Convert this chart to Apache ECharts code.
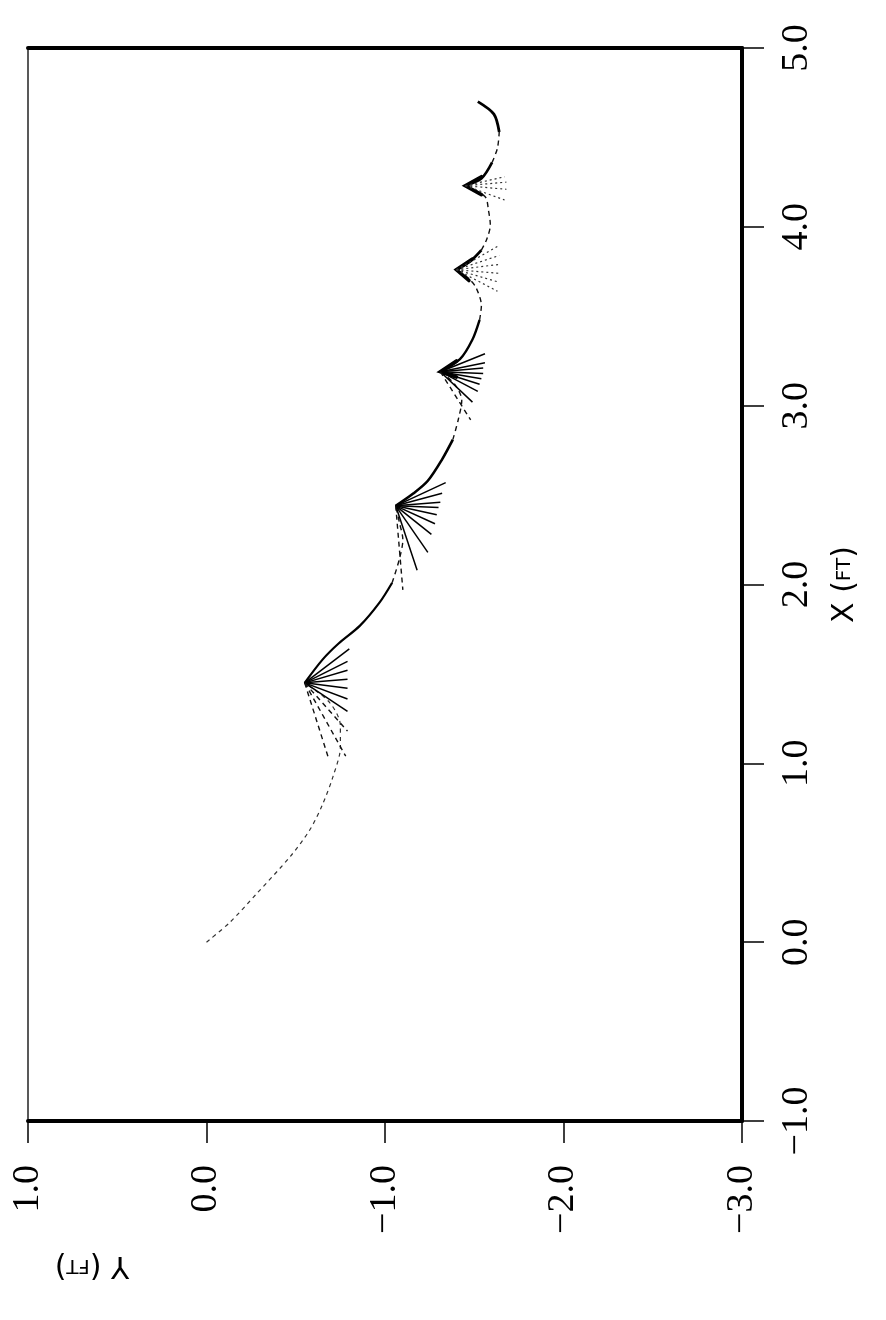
<!DOCTYPE html>
<html>
<head>
<meta charset="utf-8">
<script src="https://cdn.jsdelivr.net/npm/echarts@6/dist/echarts.min.js"></script>
<style>
  html, body { margin: 0; padding: 0; background: #fff; }
  #chart { width: 886px; height: 1320px; }
</style>
</head>
<body>
<div id="chart"></div>
<script>
// Path of the point in feet, each entry is [X, Y].
// The plot is drawn turned a quarter turn: X runs up the page, Y runs to the left.

// tick values and their printed labels
const xFtTicks = [-1, 0, 1, 2, 3, 4, 5];
const xFtTickLabels = ['\u22121.0', '0.0', '1.0', '2.0', '3.0', '4.0', '5.0'];
const yFtTicks = [1, 0, -1, -2, -3];
const yFtTickLabels = ['1.0', '0.0', '\u22121.0', '\u22122.0', '\u22123.0'];

// first stretch, from the origin to the first cusp
const arc0 = [[0.00, 0.00], [0.11, -0.13], [0.27, -0.28], [0.48, -0.47], [0.63, -0.58],
              [0.77, -0.65], [0.93, -0.71], [1.09, -0.75], [1.21, -0.75], [1.34, -0.69], [1.45, -0.55]];

// arcs between cusps: drawn part leaving a cusp, broken part arriving at the next
const arc1Solid  = [[1.45, -0.55], [1.58, -0.65], [1.67, -0.74], [1.77, -0.86], [1.90, -0.97], [2.01, -1.04]];
const arc1Dashed = [[2.01, -1.04], [2.14, -1.08], [2.25, -1.10], [2.35, -1.08], [2.44, -1.06]];
const arc2Solid  = [[2.44, -1.06], [2.51, -1.16], [2.58, -1.24], [2.70, -1.32], [2.81, -1.38]];
const arc2Dashed = [[2.81, -1.38], [2.92, -1.41], [3.03, -1.43], [3.12, -1.39], [3.19, -1.31]];
const arc3Solid  = [[3.19, -1.31], [3.26, -1.42], [3.37, -1.49], [3.48, -1.53]];
const arc3Dashed = [[3.48, -1.53], [3.56, -1.54], [3.66, -1.51], [3.71, -1.47], [3.76, -1.40]];
const arc4Solid  = [[3.76, -1.40], [3.81, -1.48], [3.87, -1.54]];
const arc4Dashed = [[3.87, -1.54], [3.93, -1.57], [4.01, -1.59], [4.09, -1.58], [4.17, -1.56], [4.23, -1.45]];
const arc5Solid  = [[4.23, -1.45], [4.27, -1.54], [4.36, -1.60]];
const arc5Dashed = [[4.36, -1.60], [4.44, -1.63], [4.53, -1.64]];
const arc5Tail   = [[4.53, -1.64], [4.63, -1.61], [4.70, -1.52]];

// heavy strokes where the pen lingered at the cusps
const cusp3Mark = [[3.16, -1.40], [3.19, -1.31], [3.25, -1.40]];
const cusp4Mark = [[3.70, -1.47], [3.76, -1.40], [3.82, -1.49]];
const cusp5Mark = [[4.18, -1.54], [4.23, -1.45], [4.28, -1.54]];

// fans of rays drawn from each cusp: apex, then ray end points
const fan1Apex = [1.45, -0.55];
const fan1Solid = [[1.64, -0.80], [1.57, -0.79], [1.52, -0.79], [1.47, -0.79], [1.42, -0.79], [1.36, -0.79], [1.29, -0.79]];
const fan1Dashed = [[1.18, -0.79], [1.04, -0.78], [1.04, -0.68]];

const fan2Apex = [2.44, -1.06];
const fan2Solid = [[2.57, -1.34], [2.51, -1.32], [2.46, -1.31], [2.43, -1.30], [2.39, -1.29], [2.34, -1.28], [2.28, -1.26], [2.18, -1.24], [2.08, -1.18]];
const fan2Dashed = [[1.97, -1.10]];

const fan3Apex = [3.19, -1.31];
const fan3Solid = [[3.29, -1.56], [3.24, -1.56], [3.21, -1.55], [3.18, -1.55], [3.15, -1.54], [3.12, -1.53], [3.08, -1.52], [3.02, -1.49]];
const fan3Dashed = [[2.92, -1.48]];

const fan4Apex = [3.76, -1.40];
const fan4Dotted = [[3.89, -1.63], [3.84, -1.64], [3.79, -1.64], [3.74, -1.64], [3.69, -1.64], [3.64, -1.63]];

const fan5Apex = [4.23, -1.45];
const fan5Dotted = [[4.28, -1.67], [4.25, -1.68], [4.21, -1.68], [4.15, -1.67]];

// [X, Y] -> [horizontal axis value (Y), vertical axis value (X)]
const toPt = p => [p[1], p[0]];

function pathSeries(points, style, smooth) {
  return {
    type: 'line',
    data: points.map(toPt),
    symbol: 'none',
    smooth: smooth === undefined ? 0.3 : smooth,
    silent: true,
    lineStyle: Object.assign({ color: '#000', width: 2 }, style)
  };
}

function fanSeries(apex, ends, style) {
  return ends.map(e => ({
    type: 'line',
    data: [toPt(apex), toPt(e)],
    symbol: 'none',
    silent: true,
    lineStyle: Object.assign({ color: '#000', width: 1.5 }, style)
  }));
}

const dashed = { type: [5, 4], width: 1.4, color: '#111' };
const dotted = { type: [2, 3], width: 1.2, color: '#333' };
const heavy = { width: 3.6, cap: 'round', join: 'miter' };

const series = [
  pathSeries(arc0, { type: [4, 4], width: 1.2, color: '#333' }),
  pathSeries(arc1Solid, { width: 2.2 }), pathSeries(arc1Dashed, dashed),
  pathSeries(arc2Solid, { width: 2.6 }), pathSeries(arc2Dashed, dashed),
  pathSeries(arc3Solid, { width: 2.4 }), pathSeries(arc3Dashed, dashed),
  pathSeries(arc4Solid, { width: 2.8 }), pathSeries(arc4Dashed, dashed),
  pathSeries(arc5Solid, { width: 2.6 }), pathSeries(arc5Dashed, dashed),
  pathSeries(arc5Tail, { width: 2.8 }),
  pathSeries(cusp3Mark, heavy, false),
  pathSeries(cusp4Mark, heavy, false),
  pathSeries(cusp5Mark, heavy, false),
  ...fanSeries(fan1Apex, fan1Solid, {}),
  ...fanSeries(fan1Apex, fan1Dashed, dashed),
  ...fanSeries(fan2Apex, fan2Solid, {}),
  ...fanSeries(fan2Apex, fan2Dashed, dashed),
  ...fanSeries(fan3Apex, fan3Solid, {}),
  ...fanSeries(fan3Apex, fan3Dashed, dashed),
  ...fanSeries(fan4Apex, fan4Dotted, dotted),
  ...fanSeries(fan5Apex, fan5Dotted, dotted)
];

const labelFont = { fontFamily: 'Liberation Serif', fontSize: 38, color: '#000' };
const pick = (ticks, labels) => v => {
  const i = ticks.indexOf(Math.round(v));
  return i < 0 ? '' : labels[i];
};

const chart = echarts.init(document.getElementById('chart'), null, { renderer: 'canvas' });
chart.setOption({
  animation: false,
  backgroundColor: '#fff',
  grid: { left: 28, right: 144, top: 48, bottom: 199, containLabel: false },
  xAxis: [
    {
      type: 'value', position: 'bottom', min: -3, max: 1, interval: 1, inverse: true,
      axisLine: { show: true, onZero: false, lineStyle: { color: '#000', width: 4 } },
      axisTick: { show: true, length: 22, lineStyle: { color: '#000', width: 1.5 } },
      axisLabel: Object.assign({ rotate: 90, margin: 44, formatter: pick(yFtTicks, yFtTickLabels) }, labelFont),
      splitLine: { show: false }
    },
    {
      type: 'value', position: 'top', min: -3, max: 1, inverse: true,
      axisLine: { show: true, onZero: false, lineStyle: { color: '#000', width: 4 } },
      axisTick: { show: false }, axisLabel: { show: false }, splitLine: { show: false }
    }
  ],
  yAxis: [
    {
      type: 'value', position: 'right', min: -1, max: 5, interval: 1,
      axisLine: { show: true, onZero: false, lineStyle: { color: '#000', width: 4 } },
      axisTick: { show: true, length: 22, lineStyle: { color: '#000', width: 1.5 } },
      axisLabel: Object.assign({ rotate: 90, margin: 36, formatter: pick(xFtTicks, xFtTickLabels) }, labelFont),
      splitLine: { show: false },
      name: 'X ({s|FT})', nameLocation: 'middle', nameRotate: 90, nameGap: 88,
      nameTextStyle: { fontFamily: 'DejaVu Sans', fontSize: 30, color: '#000', rich: { s: { fontFamily: 'DejaVu Sans', fontSize: 20, color: '#000' } } }
    },
    {
      type: 'value', position: 'left', min: -1, max: 5,
      axisLine: { show: true, onZero: false, lineStyle: { color: '#222', width: 1.5 } },
      axisTick: { show: false }, axisLabel: { show: false }, splitLine: { show: false }
    }
  ],
  graphic: [
    {
      type: 'text', x: 92, y: 1265, rotation: Math.PI,
      style: {
        text: 'Y ({s|FT})', fontFamily: 'DejaVu Sans', fontSize: 30, fill: '#000',
        align: 'center', verticalAlign: 'middle',
        rich: { s: { fontFamily: 'DejaVu Sans', fontSize: 20, fill: '#000' } }
      }
    }
  ],
  series: series
});
</script>
</body>
</html>
